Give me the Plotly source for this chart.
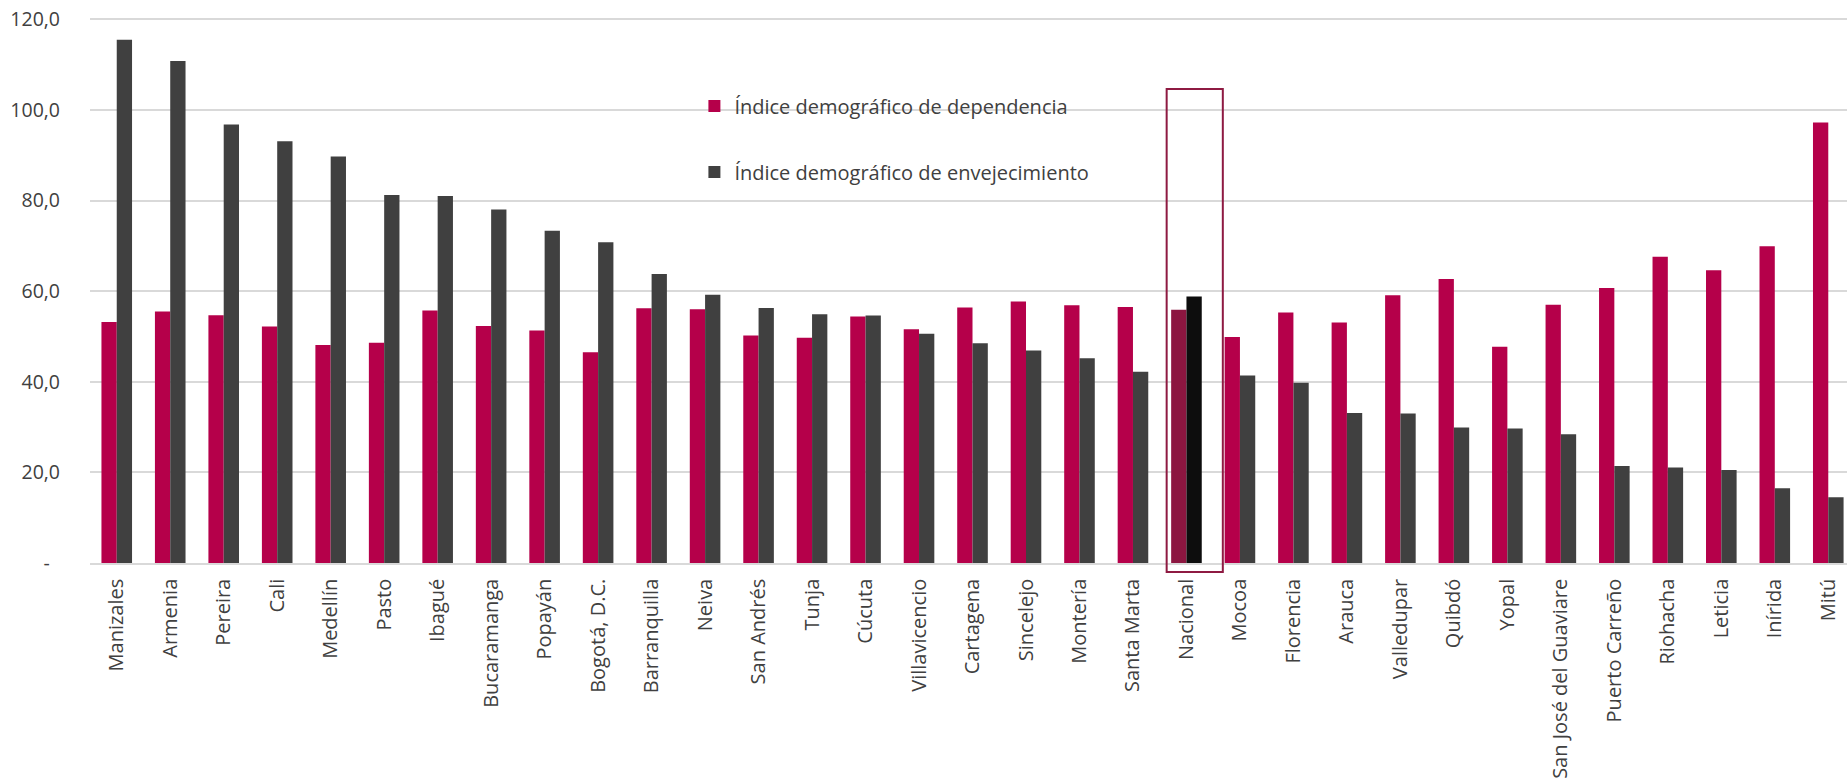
import plotly.graph_objects as go

categories = ["Manizales", "Armenia", "Pereira", "Cali", "Medellín", "Pasto", "Ibagué",
              "Bucaramanga", "Popayán", "Bogotá, D.C.", "Barranquilla", "Neiva", "San Andrés",
              "Tunja", "Cúcuta", "Villavicencio", "Cartagena", "Sincelejo", "Montería",
              "Santa Marta", "Nacional", "Mocoa", "Florencia", "Arauca", "Valledupar", "Quibdó",
              "Yopal", "San José del Guaviare", "Puerto Carreño", "Riohacha", "Leticia",
              "Inírida", "Mitú"]

dependencia = [53.2, 55.5, 54.7, 52.2, 48.1, 48.6, 55.7, 52.3, 51.3, 46.5, 56.2, 56.0, 50.2,
               49.7, 54.4, 51.6, 56.4, 57.7, 56.9, 56.5, 55.9, 49.9, 55.3, 53.1, 59.1, 62.7,
               47.7, 57.0, 60.7, 67.6, 64.6, 69.9, 97.2]

envejecimiento = [115.5, 110.8, 96.8, 93.1, 89.7, 81.2, 81.0, 78.0, 73.3, 70.8, 63.8, 59.2, 56.3,
                  54.9, 54.6, 50.6, 48.5, 46.9, 45.2, 42.2, 58.8, 41.4, 39.8, 33.1, 33.0, 29.9,
                  29.7, 28.4, 21.4, 21.1, 20.5, 16.5, 14.5]

series_names = ["Índice demográfico de dependencia", "Índice demográfico de envejecimiento"]
tick_vals = [0, 20, 40, 60, 80, 100, 120]
tick_text = ["-\u00a0\u00a0", "20,0", "40,0", "60,0", "80,0", "100,0", "120,0"]
highlight = "Nacional"

RED, DARK = "#B5004A", "#404040"
RED_H, DARK_H = "#8C1640", "#0D0D0D"

red_colors = [RED_H if c == highlight else RED for c in categories]
dark_colors = [DARK_H if c == highlight else DARK for c in categories]

fig = go.Figure()
fig.add_trace(go.Bar(x=categories, y=dependencia, name=series_names[0],
                     marker=dict(color=red_colors, line=dict(width=0)), legend="legend"))
fig.add_trace(go.Bar(x=categories, y=envejecimiento, name=series_names[1],
                     marker=dict(color=dark_colors, line=dict(width=0)), legend="legend2"))

hi = categories.index(highlight)
fig.add_shape(type="rect", xref="x", yref="paper",
              x0=hi - 0.37, x1=hi + 0.68, y0=-0.0165, y1=0.868,
              line=dict(color="#8E1A42", width=2), fillcolor="rgba(0,0,0,0)", layer="above")

font_family = "Open Sans"
fig.update_layout(
    width=1847, height=781,
    margin=dict(l=90, r=0, t=17, b=218, autoexpand=False),
    paper_bgcolor="white", plot_bgcolor="white",
    barmode="group", bargap=0.428, bargroupgap=0,
    font=dict(family=font_family, color="#404040", size=20),
    legend=dict(x=0.344, y=0.837, xanchor="left", yanchor="middle",
                bgcolor="rgba(0,0,0,0)", font=dict(size=20, color="#404040"), itemwidth=30),
    legend2=dict(x=0.344, y=0.716, xanchor="left", yanchor="middle",
                 bgcolor="rgba(0,0,0,0)", font=dict(size=20, color="#404040"), itemwidth=30),
    showlegend=True,
)
fig.update_xaxes(type="category", range=[-0.5, 32.35], tickangle=-90, automargin=False,
                 tickfont=dict(size=20, color="#404040"), showgrid=False,
                 showline=True, linecolor="#d9d9d9", linewidth=1.5,
                 ticks="", ticklabelstandoff=6)
fig.update_yaxes(range=[0, 120.5], tickvals=tick_vals, ticktext=tick_text, automargin=False,
                 tickfont=dict(size=19.5, color="#404040"),
                 showgrid=True, gridcolor="#d9d9d9", gridwidth=1.5,
                 zeroline=False, showline=False, ticks="", ticklabelstandoff=29)

fig.write_html("out.html", config={"displayModeBar": False},
               post_script="document.body.style.margin='0';document.body.style.padding='0';"
                           "document.body.style.overflow='hidden';")
